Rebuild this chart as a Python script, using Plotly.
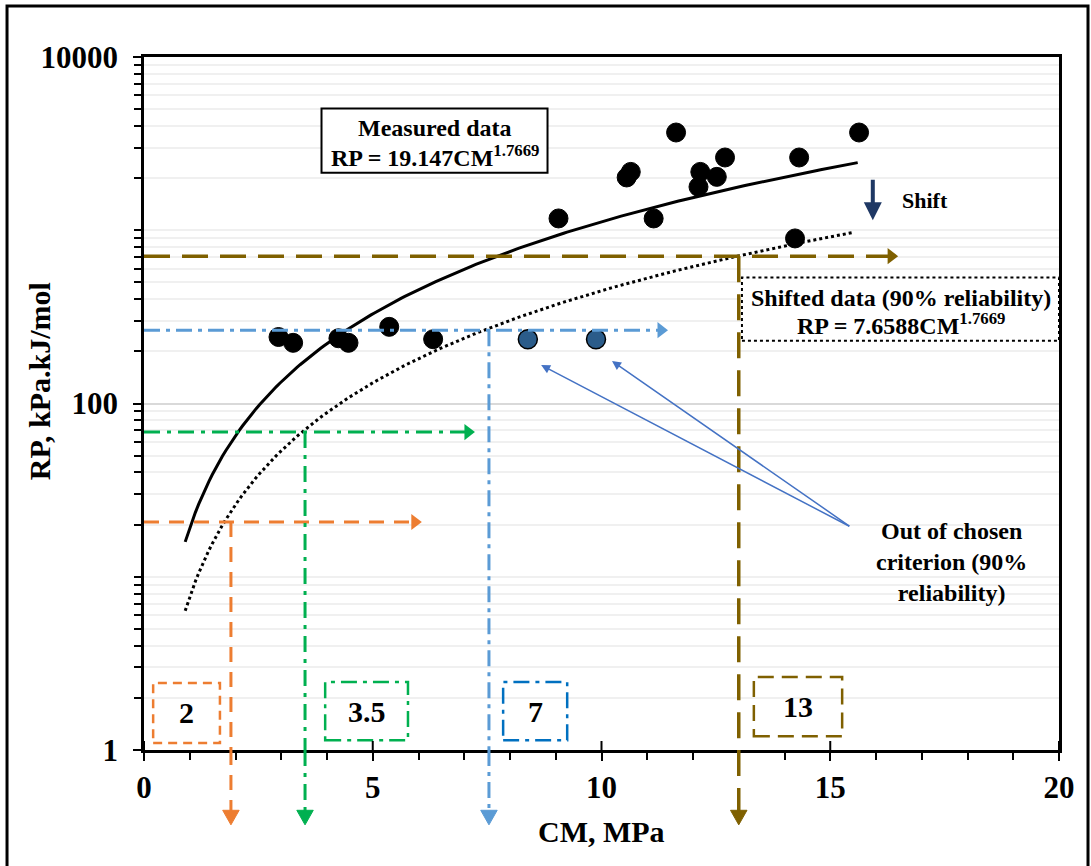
import numpy as np
import plotly.graph_objects as go

# Measured points: CM (MPa) vs RP (kPa.kJ/mol)
measured_cm = [2.94, 3.26, 4.25, 4.47, 5.36, 6.32, 9.06, 10.55, 10.64, 11.14,
               11.63, 12.12, 12.16, 12.52, 12.70, 14.23, 14.32, 15.63]
measured_rp = [242, 224, 238, 224, 277, 235, 1170, 2017, 2172, 1170,
               3666, 1780, 2172, 2033, 2630, 897, 2630, 3666]

# Points falling outside the 90 % reliability criterion
outlier_cm = [8.39, 9.88]
outlier_rp = [235, 235]

# Power-law fits RP = a * CM^b
fit_a = 19.147
shifted_a = 7.6588
fit_b = 1.7669
fit_cm = np.linspace(0.9, 15.6, 200)
shifted_cm = np.linspace(0.9, 15.5, 200)
fit_rp = fit_a * fit_cm ** fit_b
shifted_rp = shifted_a * shifted_cm ** fit_b

# Reliability guide lines (horizontal RP level, vertical CM read-off)
guide_cm = [1.9, 3.52, 7.54, 13.0]
guide_rp = [20.7, 68.4, 265, 709]
guide_arrow_cm = [5.92, 7.08, 11.30, 16.33]
guide_labels = ["2", "3.5", "7", "13"]

x_ticks = [0, 5, 10, 15, 20]
y_ticks = [1, 100, 10000]

SERIF = "Liberation Serif"
guide_colors = ["#ED7D31", "#00B050", "#5B9BD5", "#7F6000"]
guide_dash = ["15px,10px", "16px,7px,4px,7px", "16px,6px,4px,6px", "26px,12px"]
guide_width = [3, 3, 3, 3.5]
box_colors = ["#ED7D31", "#00B050", "#0070C0", "#7F6000"]
box_dash = ["9px,6px", "16px,6px,4px,6px", "16px,6px,4px,6px", "16px,8px"]
box_x = [(0.2, 1.66), (3.96, 5.77), (7.85, 9.25), (13.33, 15.26)]
box_y = [(1.097, 2.44), (1.14, 2.47), (1.14, 2.47), (1.2, 2.64)]

fig = go.Figure()

fig.add_trace(go.Scatter(x=fit_cm, y=fit_rp, mode="lines",
                         line=dict(color="black", width=3), hoverinfo="skip"))
fig.add_trace(go.Scatter(x=shifted_cm, y=shifted_rp, mode="lines",
                         line=dict(color="black", width=3, dash="dot"), hoverinfo="skip"))

shapes = []
half_head = 0.18
for i in range(len(guide_cm)):
    c, w, d = guide_colors[i], guide_width[i], guide_dash[i]
    xv = guide_cm[i]
    shapes.append(dict(type="line", xref="x", yref="y", x0=0, x1=guide_arrow_cm[i],
                       y0=guide_rp[i], y1=guide_rp[i], layer="above",
                       line=dict(color=c, width=w, dash=d)))
    shapes.append(dict(type="line", xref="x", yref="y", x0=xv, x1=xv,
                       y0=guide_rp[i], y1=1, layer="above",
                       line=dict(color=c, width=w, dash=d)))
    shapes.append(dict(type="line", xref="x", yref="paper", x0=xv, x1=xv,
                       y0=0, y1=-0.09, layer="above",
                       line=dict(color=c, width=w, dash=d)))
    # downward arrow head below the axis
    shapes.append(dict(type="path", xref="x", yref="paper", layer="above",
                       path=f"M{xv - half_head},-0.087 L{xv + half_head},-0.087 L{xv},-0.108 Z",
                       fillcolor=c, line=dict(color=c, width=1)))
    # right arrow head at the end of the level line
    fig.add_trace(go.Scatter(x=[guide_arrow_cm[i]], y=[guide_rp[i]], mode="markers",
                             marker=dict(symbol="triangle-right", size=14, color=c),
                             cliponaxis=False, hoverinfo="skip"))
    # value boxes
    shapes.append(dict(type="rect", xref="x", yref="y", x0=box_x[i][0], x1=box_x[i][1],
                       y0=box_y[i][0], y1=box_y[i][1], layer="above",
                       line=dict(color=box_colors[i], width=2.5, dash=box_dash[i])))

fig.add_trace(go.Scatter(x=measured_cm, y=measured_rp, mode="markers",
                         marker=dict(color="black", size=19, line=dict(color="black", width=1)),
                         hoverinfo="skip"))
fig.add_trace(go.Scatter(x=outlier_cm, y=outlier_rp, mode="markers",
                         marker=dict(color="#2B5C8A", size=19, line=dict(color="black", width=1.5)),
                         hoverinfo="skip"))

# equation boxes
shapes.append(dict(type="rect", xref="x", yref="y", x0=3.88, x1=8.82, y0=2144, y1=5047,
                   layer="above", fillcolor="white", line=dict(color="black", width=2)))
shapes.append(dict(type="rect", xref="x", yref="y", x0=13.07, x1=20, y0=230, y1=534,
                   layer="above", fillcolor="white", line=dict(color="black", width=2, dash="dot")))

# small crossing part of the major x ticks
for t in x_ticks:
    shapes.append(dict(type="line", xref="x", yref="paper", x0=t, x1=t, y0=0, y1=0.013,
                       line=dict(color="black", width=2)))

# outer frame
shapes.append(dict(type="rect", xref="paper", yref="paper",
                   x0=-0.1497, x1=1.0317, y0=-0.175, y1=1.0736,
                   line=dict(color="black", width=3)))

bold24 = dict(family=SERIF, size=24, color="black", weight="bold")
bold30 = dict(family=SERIF, size=30, color="black", weight="bold")


def note(x, y, text, font=bold24, **kw):
    d = dict(x=x, y=y, xref="x", yref="y", text=text, showarrow=False, font=font,
             xanchor="center", yanchor="middle")
    d.update(kw)
    return d


annotations = [
    note(6.35, np.log10(3868), "Measured data"),
    note(6.35, np.log10(2685), f"RP = {fit_a}CM<sup>{fit_b}</sup>"),
    note(16.55, np.log10(409), "Shifted data (90% reliability)"),
    note(16.55, np.log10(287), f"RP = {shifted_a}CM<sup>{fit_b}</sup>"),
    note(17.07, 3.174, "Shift", font=dict(family=SERIF, size=22, color="black", weight="bold")),
    dict(x=15.93, y=3.058, xref="x", yref="y", ax=0, ay=-42, text="",
         showarrow=True, arrowhead=2, arrowsize=0.9, arrowwidth=4, arrowcolor="#1F3864"),
    note(17.66, 1.085, "Out of chosen<br>criterion (90%<br>reliability)", align="center"),
    dict(x=-0.1148, y=0.532, xref="paper", yref="paper", text="RP, kPa.kJ/mol",
         textangle=-90, showarrow=False, font=bold30, xanchor="center", yanchor="middle"),
    dict(x=0.5005, y=-0.118, xref="paper", yref="paper", text="CM, MPa",
         showarrow=False, font=bold30, xanchor="center", yanchor="middle"),
]
for tx, ty in [(8.68, 2.2216), (10.23, 2.2446)]:
    annotations.append(dict(x=tx, y=ty, xref="x", yref="y", axref="x", ayref="y",
                            ax=15.45, ay=1.2868, text="", showarrow=True,
                            arrowhead=2, arrowsize=1.2, arrowwidth=1.5,
                            arrowcolor="#4472C4"))
for i, lab in enumerate(guide_labels):
    annotations.append(note((box_x[i][0] + box_x[i][1]) / 2,
                            (np.log10(box_y[i][0]) + np.log10(box_y[i][1])) / 2,
                            lab, font=bold30))

tick_font = dict(family=SERIF, size=31, color="black", weight="bold")

fig.update_layout(
    width=1091, height=866,
    margin=dict(l=144, r=32, t=57, b=116),
    paper_bgcolor="white", plot_bgcolor="white",
    showlegend=False,
    shapes=shapes, annotations=annotations,
    xaxis=dict(range=[0, 20], tickvals=x_ticks, showgrid=False, zeroline=False,
               showline=True, linecolor="black", linewidth=2.5, mirror=True,
               ticks="outside", ticklen=8, tickwidth=2, tickcolor="black",
               ticklabelstandoff=0, tickfont=tick_font,
               minor=dict(dtick=1, ticks="outside", ticklen=7, tickwidth=2,
                          tickcolor="black", showgrid=False)),
    yaxis=dict(type="log", range=[0, 4], tickvals=y_ticks, ticktext=["1", "100", "10000"],
               zeroline=False, showline=True, linecolor="black", linewidth=2.5, mirror=True,
               ticks="outside", ticklen=8, tickwidth=2, tickcolor="black",
               ticklabelstandoff=9, tickfont=tick_font,
               showgrid=True, gridcolor="#D9D9D9", gridwidth=2,
               minor=dict(dtick="D1", ticks="outside", ticklen=7, tickwidth=2,
                          tickcolor="black", showgrid=True, gridcolor="#F0F0F0",
                          gridwidth=2)),
)

fig.write_html("out.html")
